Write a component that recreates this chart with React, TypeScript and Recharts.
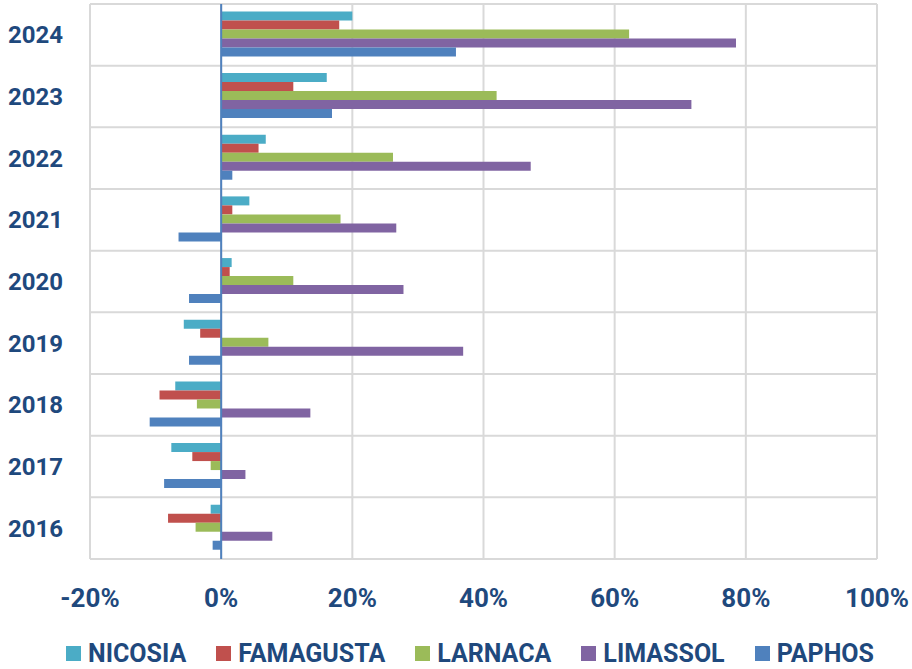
import React from 'react';
import { BarChart, Bar, XAxis, YAxis, CartesianGrid, Legend, ReferenceLine } from 'recharts';

const years = ['2024', '2023', '2022', '2021', '2020', '2019', '2018', '2017', '2016'];
const nicosia = [20.0, 16.1, 6.8, 4.3, 1.6, -5.7, -7.0, -7.6, -1.6];
const famagusta = [18.0, 11.0, 5.7, 1.7, 1.3, -3.2, -9.4, -4.4, -8.1];
const larnaca = [62.2, 42.0, 26.2, 18.2, 11.0, 7.2, -3.7, -1.6, -3.9];
const limassol = [78.5, 71.7, 47.2, 26.7, 27.8, 36.9, 13.6, 3.7, 7.8];
const paphos = [35.8, 16.9, 1.7, -6.5, -4.9, -4.9, -10.9, -8.7, -1.3];
const xTicks = [-20, 0, 20, 40, 60, 80, 100];

const seriesNames = ['NICOSIA', 'FAMAGUSTA', 'LARNACA', 'LIMASSOL', 'PAPHOS'];
const seriesColors = ['#4BACC6', '#C0504D', '#9BBB59', '#8064A2', '#4F81BD'];
const seriesValues = [nicosia, famagusta, larnaca, limassol, paphos];

const data = years.map((year, i) => {
  const row: Record<string, string | number> = { year };
  seriesNames.forEach((n, s) => {
    row[n] = seriesValues[s][i];
  });
  return row;
});

const TEXT = '#1F497D';
const FONT = 'Roboto, "Liberation Sans", sans-serif';

const LegendContent = () => (
  <div
    style={{
      display: 'flex',
      justifyContent: 'center',
      alignItems: 'center',
      height: 30,
      paddingLeft: 28,
      fontFamily: FONT,
      fontWeight: 700,
      fontSize: 25,
      color: TEXT,
      boxSizing: 'border-box',
    }}
  >
    {seriesNames.map((n, i) => (
      <div key={n} style={{ display: 'flex', alignItems: 'center', marginRight: i < seriesNames.length - 1 ? 30 : 0 }}>
        <span style={{ display: 'inline-block', width: 15, height: 15, background: seriesColors[i], marginRight: 7 }} />
        <span>{n}</span>
      </div>
    ))}
  </div>
);

export default function App() {
  return (
    <div style={{ position: 'absolute', left: 0, top: 0, width: 912, height: 669, background: '#fff' }}>
      <BarChart
        width={912}
        height={669}
        data={data}
        layout="vertical"
        margin={{ top: 4, right: 35, left: 0, bottom: 1 }}
        barCategoryGap="12%"
        barGap={0}
      >
        <CartesianGrid
          stroke="#D9D9D9"
          strokeWidth={2}
          vertical={true}
          horizontal={true}
          horizontalCoordinatesGenerator={({ offset }: any) => {
            const pts: number[] = [];
            const step = offset.height / years.length;
            for (let i = 0; i <= years.length; i++) pts.push(offset.top + i * step);
            return pts;
          }}
        />
        <XAxis
          type="number"
          domain={[-20, 100]}
          ticks={xTicks}
          tickFormatter={(v: number) => `${v}%`}
          axisLine={false}
          tickLine={false}
          tickSize={0}
          tickMargin={30}
          height={79}
          interval={0}
          tick={{ fill: TEXT, fontSize: 26, fontWeight: 700, fontFamily: FONT }}
        />
        <YAxis
          type="category"
          dataKey="year"
          axisLine={false}
          tickLine={false}
          tickSize={0}
          tickMargin={27}
          width={90}
          interval={0}
          tick={{ fill: TEXT, fontSize: 24, fontWeight: 700, fontFamily: FONT }}
        />
        {seriesNames.map((n, i) => (
          <Bar key={n} dataKey={n} fill={seriesColors[i]} isAnimationActive={false} />
        ))}
        <ReferenceLine x={0} stroke="#4F81BD" strokeWidth={2} />
        <Legend
          verticalAlign="bottom"
          align="center"
          content={<LegendContent />}
          wrapperStyle={{ left: 0, width: 912 }}
        />
      </BarChart>
    </div>
  );
}
